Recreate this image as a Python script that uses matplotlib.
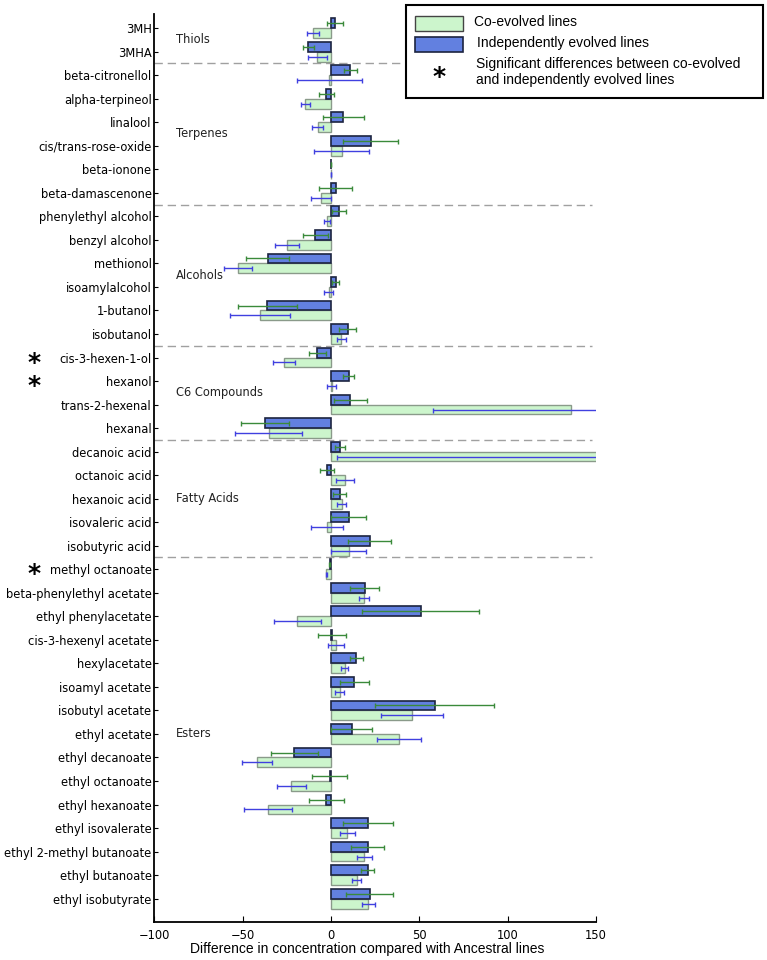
import matplotlib
matplotlib.use("Agg")
import matplotlib.pyplot as plt
from matplotlib.patches import Rectangle
import numpy as np

plt.rcParams['font.family'] = ['DejaVu Sans']

compounds = ["3MH", "3MHA",
             "beta-citronellol", "alpha-terpineol", "linalool", "cis/trans-rose-oxide", "beta-ionone", "beta-damascenone",
             "phenylethyl alcohol", "benzyl alcohol", "methionol", "isoamylalcohol", "1-butanol", "isobutanol",
             "cis-3-hexen-1-ol", "hexanol", "trans-2-hexenal", "hexanal",
             "decanoic acid", "octanoic acid", "hexanoic acid", "isovaleric acid", "isobutyric acid",
             "methyl octanoate", "beta-phenylethyl acetate", "ethyl phenylacetate", "cis-3-hexenyl acetate",
             "hexylacetate", "isoamyl acetate", "isobutyl acetate", "ethyl acetate", "ethyl decanoate",
             "ethyl octanoate", "ethyl hexanoate", "ethyl isovalerate", "ethyl 2-methyl butanoate",
             "ethyl butanoate", "ethyl isobutyrate"]

# Independently evolved lines (blue) and their errors
indep = [2.1, -12.8,
         10.8, -2.6, 7.0, 22.5, 0.0, 2.6,
         4.3, -8.9, -35.8, 2.6, -36.0, 9.6,
         -7.7, 10.0, 10.9, -37.5,
         5.1, -2.3, 4.9, 10.0, 21.9,
         -0.6, 19.1, 50.8, 0.6, 14.3, 13.2, 58.7, 11.7, -20.9,
         -0.6, -2.6, 20.9, 20.8, 20.8, 21.9]
indep_err = [4.6, 3.0,
             3.7, 4.2, 11.7, 15.5, 0.0, 9.3,
             4.0, 7.1, 12.3, 2.2, 16.7, 4.8,
             4.6, 3.2, 9.4, 13.6,
             3.1, 4.1, 3.7, 9.8, 12.2,
             0.3, 8.1, 33.1, 7.7, 3.8, 8.2, 33.6, 11.6, 13.3,
             9.9, 10.1, 14.0, 9.2, 3.7, 13.3]

# Co-evolved lines (green) and their errors
coevo = [-10.0, -7.7,
         -1.0, -14.5, -7.5, 6.0, 0.0, -5.7,
         -2.1, -24.7, -52.6, -1.3, -40.0, 5.8,
         -26.6, 0.3, 136.0, -35.3,
         160.0, 8.1, 6.0, -2.1, 10.0,
         -2.6, 18.7, -19.1, 2.8, 7.7, 4.9, 45.8, 38.3, -41.7,
         -22.5, -35.7, 9.2, 18.9, 14.5, 21.1]
coevo_err = [3.3, 5.3,
             18.4, 2.6, 3.0, 15.4, 0.0, 5.5,
             1.8, 6.8, 7.7, 2.5, 16.9, 2.6,
             6.2, 2.6, 78.0, 19.0,
             156.8, 5.0, 2.6, 9.1, 9.8,
             0.3, 3.1, 13.4, 4.5, 1.8, 2.7, 17.5, 12.5, 8.4,
             8.3, 13.6, 4.3, 4.2, 2.6, 3.8]

groups = ["Thiols", "Terpenes", "Alcohols", "C6 Compounds", "Fatty Acids", "Esters"]
group_sizes = [2, 6, 6, 4, 5, 15]
significant = ["cis-3-hexen-1-ol", "hexanol", "methyl octanoate"]

fig = plt.figure(figsize=(7.67, 9.6), dpi=100)
ax = fig.add_axes([154.3 / 767, 38.3 / 960, (596 - 154.3) / 767, (921.7 - 14) / 960])

y = np.arange(len(compounds))
h = 0.42
off = 0.21

ax.barh(y + off, coevo, height=h, color='#ccf5cc', edgecolor='#8a9a8a', linewidth=1.0, zorder=2)
ax.barh(y - off, indep, height=h, color='#6280e0', edgecolor='#1c2440', linewidth=1.2, zorder=2)

ax.errorbar(indep, y - off, xerr=indep_err, fmt='none', ecolor='#3a8a3a', elinewidth=1.0,
            capsize=1.8, capthick=1.0, zorder=3)
ax.errorbar(coevo, y + off, xerr=coevo_err, fmt='none', ecolor='#4040e0', elinewidth=1.0,
            capsize=1.8, capthick=1.0, zorder=3)

# group separators and labels
start = 0
for g, n in zip(groups, group_sizes):
    center = start + (n - 1) / 2.0
    ax.text(-88, center, g, ha='left', va='center', fontsize=8.3, color='#222222')
    end = start + n
    if end < len(compounds):
        ax.plot([-100, 148], [end - 0.5, end - 0.5], color='#a0a0a0', lw=1.0,
                linestyle=(0, (6, 3.5)), zorder=1)
    start = end

ax.set_xlim(-100, 150)
ax.set_ylim(37.98, -0.6)
ax.set_yticks(y)
ax.set_yticklabels(compounds, fontsize=8.3)
ax.set_xticks([-100, -50, 0, 50, 100, 150])
ax.set_xticklabels(['\u2212100', '\u221250', '0', '50', '100', '150'], fontsize=8.3)
ax.tick_params(axis='y', direction='in', length=3, width=0.8, pad=2, right=False)
ax.tick_params(axis='x', direction='in', length=4, width=0.8, pad=5, top=False)
for s in ['top', 'right']:
    ax.spines[s].set_visible(False)
for s in ['left', 'bottom']:
    ax.spines[s].set_linewidth(1.3)

# significance asterisks
for name in significant:
    idx = compounds.index(name)
    ax.annotate('*', xy=(0, idx), xycoords=('figure fraction', 'data'),
                xytext=(34, -5), textcoords='offset pixels',
                ha='center', va='center', fontsize=18, fontweight='bold', annotation_clip=False)

fig.text(366.7 / 767, 1 - 949 / 960, 'Difference in concentration compared with Ancestral lines',
         ha='center', va='center', fontsize=10, family='Liberation Sans')

# legend drawn in figure coordinates
W, H = 767.0, 960.0
def fr(x0, y0, x1, y1, **kw):
    fig.patches.append(Rectangle((x0 / W, 1 - y1 / H), (x1 - x0) / W, (y1 - y0) / H,
                                 transform=fig.transFigure, figure=fig, **kw))
fr(406, 5, 763, 98, facecolor='white', edgecolor='black', linewidth=1.5, zorder=5)
fr(415, 16, 463, 31, facecolor='#ccf5cc', edgecolor='#444444', linewidth=1.0, zorder=6)
fr(415, 37, 463, 52, facecolor='#6280e0', edgecolor='#1c2440', linewidth=1.2, zorder=6)
fig.text(474 / W, 1 - 21.7 / H, 'Co-evolved lines', ha='left', va='center', fontsize=10,
         family='Liberation Sans', zorder=7)
fig.text(476.7 / W, 1 - 43.3 / H, 'Independently evolved lines', ha='left', va='center', fontsize=10,
         family='Liberation Sans', zorder=7)
fig.text(476 / W, 1 - 71.7 / H, 'Significant differences between co-evolved\nand independently evolved lines',
         ha='left', va='center', fontsize=10, family='Liberation Sans', zorder=7, linespacing=1.2)
fig.text(439 / W, 1 - 76.7 / H, '*', ha='center', va='center', fontsize=18, fontweight='bold', zorder=7)

fig.savefig('out.png', dpi=100)
